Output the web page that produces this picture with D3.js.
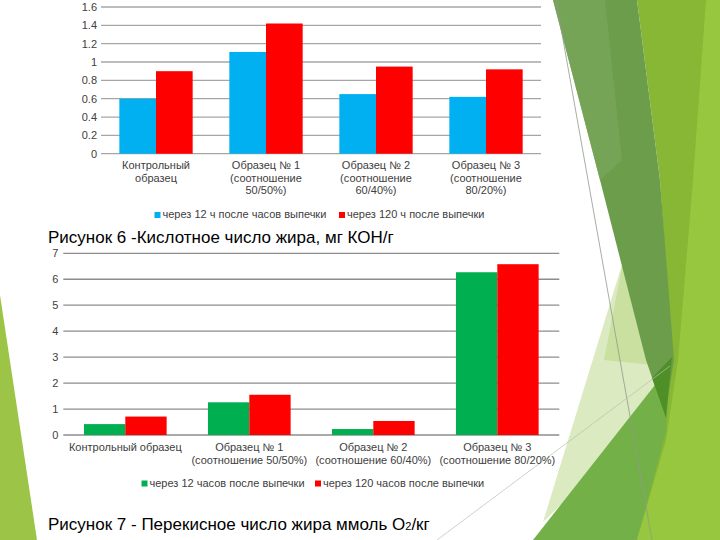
<!DOCTYPE html>
<html><head><meta charset="utf-8">
<script src="https://cdn.jsdelivr.net/npm/d3@7"></script>
<style>html,body{margin:0;padding:0;background:#fff;}svg{display:block;}</style>
</head><body>
<svg id="s" width="720" height="540"></svg>
<script>
// ---- data ----
const categories1 = [["Контрольный","образец"],["Образец № 1","(соотношение","50/50%)"],["Образец № 2","(соотношение","60/40%)"],["Образец № 3","(соотношение","80/20%)"]];
const acid12 = [0.60, 1.11, 0.65, 0.62];
const acid120 = [0.90, 1.42, 0.95, 0.92];
const acidTicks = [0, 0.2, 0.4, 0.6, 0.8, 1, 1.2, 1.4, 1.6];
const series1 = ["через 12 ч после часов выпечки", "через 120 ч после выпечки"];

const categories2 = [["Контрольный образец"],["Образец № 1","(соотношение 50/50%)"],["Образец № 2","(соотношение 60/40%)"],["Образец № 3","(соотношение 80/20%)"]];
const perox12 = [0.42, 1.26, 0.23, 6.27];
const perox120 = [0.71, 1.55, 0.54, 6.58];
const peroxTicks = [0, 1, 2, 3, 4, 5, 6, 7];
const series2 = ["через 12 часов после выпечки", "через 120 часов после выпечки"];

const title1 = "Рисунок 6 -Кислотное число жира, мг КОН/г";
const title2a = "Рисунок 7 - Перекисное число жира ммоль O";
const title2sub = "2";
const title2b = "/кг";

const svg = d3.select("#s");
const FONT = "'Liberation Sans', Arial, sans-serif";

// ---- background decoration ----
const deco = svg.append("g");
const poly = (pts, fill, op) => deco.append("polygon").attr("points", pts.map(p=>p.join(",")).join(" ")).attr("fill", fill).attr("opacity", op||1);
poly([[0,295],[37,540],[0,540]], "#9cc548");
poly([[637,0],[720,0],[720,540],[637,540],[665,415],[672,360],[660,180]], "#87b735");
poly([[706,0],[720,0],[720,540],[637,540],[666,440],[678,360],[693,180]], "#96c73e");
poly([[624,258],[664,405],[543,522]], "#dbeac0");
poly([[623,262],[652,365],[604,360]], "#c9e0a0");
poly([[553,0],[637,0],[660,180],[674,360],[665,415],[646,360],[600,180]], "#6c9d4b");
poly([[553,0],[605,0],[622,160],[600,180]], "#79a75d", 0.7);
poly([[533,540],[655,385],[670,366],[666,432],[637,540]], "#73b148");
poly([[652,378],[672,357],[666,418]], "#4f8f27");
deco.append("line").attr("x1",556).attr("y1",0).attr("x2",652).attr("y2",540).attr("stroke","#8f9a8a").attr("stroke-width",0.8);
deco.append("line").attr("x1",437).attr("y1",540).attr("x2",670).attr("y2",366).attr("stroke","#b8c0b0").attr("stroke-width",0.7);

// ---- generic grouped bar chart ----
function chart(cfg){
  const g = svg.append("g");
  const x = d3.scaleBand().domain(d3.range(cfg.cats.length)).range([cfg.x0, cfg.x1]).paddingInner(1/3).paddingOuter(1/6);
  const xs = d3.scaleBand().domain([0,1]).range([0, x.bandwidth()]);
  const y = d3.scaleLinear().domain([0, cfg.ymax]).range([cfg.y0, cfg.y1]);
  g.selectAll("line.grid").data(cfg.ticks).join("line")
    .attr("x1", cfg.x0).attr("x2", cfg.x1).attr("y1", d=>y(d)).attr("y2", d=>y(d))
    .attr("stroke", cfg.grid).attr("stroke-width", 1.3);
  const ax = g.append("g").attr("transform", `translate(${cfg.x0-3},0)`)
    .call(d3.axisLeft(y).tickValues(cfg.ticks).tickSize(0).tickPadding(cfg.tickPad).tickFormat(d=>String(+d.toFixed(1))));
  ax.select(".domain").remove();
  ax.selectAll("text").attr("font-family", FONT).attr("font-size", cfg.tfs).attr("fill", "#404040");
  [cfg.a, cfg.b].forEach((arr, si) => {
    g.selectAll(null).data(arr).join("rect")
      .attr("x", (d,i)=>x(i)+xs(si)).attr("width", xs.bandwidth())
      .attr("y", d=>y(d)).attr("height", d=>y(0)-y(d))
      .attr("fill", cfg.colors[si]);
  });
  cfg.cats.forEach((lines, i) => {
    const t = g.append("text").attr("x", x(i)+x.bandwidth()/2).attr("y", cfg.labY)
      .attr("text-anchor","middle").attr("font-family", FONT).attr("font-size", cfg.fs).attr("fill","#404040");
    lines.forEach((l, j) => t.append("tspan").attr("x", x(i)+x.bandwidth()/2).attr("dy", j===0?0:cfg.lh).text(l));
  });
  cfg.legend.forEach((lg, si) => {
    g.append("rect").attr("x", lg).attr("y", cfg.legY-6).attr("width", 6).attr("height", 6).attr("fill", cfg.colors[si]);
    g.append("text").attr("x", lg+8).attr("y", cfg.legY).attr("font-family", FONT).attr("font-size", cfg.fs).attr("fill","#404040").text(cfg.series[si]);
  });
}

chart({cats: categories1, a: acid12, b: acid120, ymax: 1.6, ticks: acidTicks,
  x0: 101, x1: 541, y0: 153.7, y1: 7, grid: "#a6a6a6", tickPad: 1, fs: 11, tfs: 11,
  colors: ["#00b0f0", "#ff0000"], labY: 169, lh: 12.7, legY: 218,
  legend: [154.5, 339], series: series1});

chart({cats: categories2, a: perox12, b: perox120, ymax: 7, ticks: peroxTicks,
  x0: 63.3, x1: 559.3, y0: 435, y1: 253.3, grid: "#8c8c8c", tickPad: 2, fs: 11, tfs: 11,
  colors: ["#00b050", "#ff0000"], labY: 450.5, lh: 13.5, legY: 486.5,
  legend: [141.5, 315], series: series2});

svg.append("text").attr("x", 48).attr("y", 243).attr("font-family", FONT).attr("font-size", 17).attr("fill","#000").text(title1);
const t2 = svg.append("text").attr("x", 48).attr("y", 530).attr("font-family", FONT).attr("font-size", 17).attr("fill","#000");
t2.append("tspan").text(title2a);
t2.append("tspan").attr("font-size", 11).text(title2sub);
t2.append("tspan").text(title2b);
</script>
</body></html>
